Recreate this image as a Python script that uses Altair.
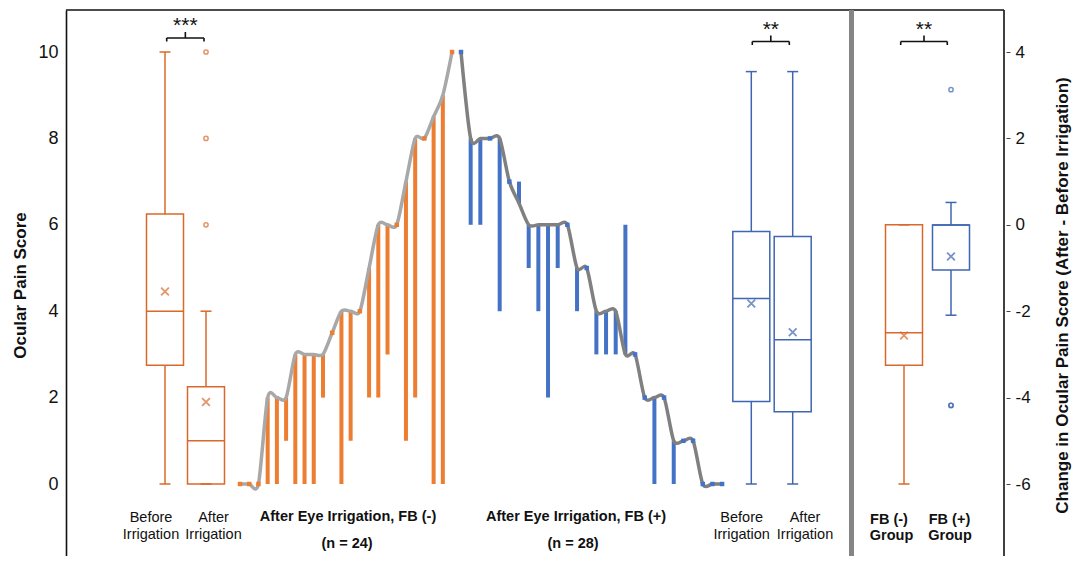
import altair as alt
import numpy as np
import pandas as pd

# ---------------- data ----------------
FAMILIES = ["FB (-)", "FB (+)"]
# per-patient scores, in the order they are drawn (each bar: before -> after)
fbneg_before = [0, 0, 0, 2, 2, 2, 3, 3, 3, 3, 3.5, 4, 4, 4, 5, 6, 6, 6, 7, 8, 8, 8.5, 9, 10]
fbneg_after = [0, 0, 0, 0, 0, 1, 0, 0, 0, 2, 3.5, 0, 1, 4, 2, 2, 3, 6, 1, 2, 8, 0, 0, 10]
fbpos_before = [10, 8, 8, 8, 8, 7, 6.5, 6, 6, 6, 6, 6, 5, 5, 4, 4, 4, 3, 3, 2, 2, 2, 1, 1, 1, 0, 0, 0]
fbpos_after = [10, 6, 6, 8, 4, 7, 7, 5, 4, 2, 5, 6, 4, 5, 3, 3, 3, 6, 3, 2, 0, 2, 0, 1, 1, 0, 0, 0]

left_ticks = [0, 2, 4, 6, 8, 10]
right_ticks = [-6, -4, -2, 0, 2, 4]
sig_text = ["***", "**", "**"]
left_title = "Ocular Pain Score"
right_title = "Change in Ocular Pain Score (After - Before Irrigation)"
label_text = ["Before", "Irrigation", "After", "Irrigation",
              "After Eye Irrigation, FB (-)", "(n = 24)",
              "After Eye Irrigation, FB (+)", "(n = 28)",
              "Before", "Irrigation", "After", "Irrigation",
              "FB (-)", "Group", "FB (+)", "Group"]
label_bold = [False, False, False, False, True, True, True, True,
              False, False, False, False, True, True, True, True]

# ---------------- layout / style ----------------
FONT = "Liberation Sans"
INK = "#111111"
BAR_COLOR = {"FB (-)": "#ED7D31", "FB (+)": "#4472C4"}
BOX_COLOR = {"FB (-)": "#DA682A", "FB (+)": "#3F66B2"}
CURVE_COLOR = {"FB (-)": "#A8A8A8", "FB (+)": "#808080"}
PLOT_W, PLOT_H = 938, 546
PAGE_LEFT, PAGE_TOP = 66, 10          # page position of the plot's top-left corner


def px(xpage):
    return xpage - PAGE_LEFT


# vertical scales: (pixels per unit, page y of value 0)
LEFT_SC = (43.2, 484.0)
RIGHT_SC = (43.2, 484.0 - 6 * 43.2)
BLUEBOX_SC = (41.24, 484.0)
FBPOS_SC = (45.1, 225.0)


def scale_of(sc):
    ppu, zero = sc
    z = zero - PAGE_TOP
    return alt.Scale(domain=[(z - PLOT_H) / ppu, z / ppu], nice=False, zero=False)


def lu(ypage):
    return (LEFT_SC[1] - ypage) / LEFT_SC[0]


SEQ_START = {"FB (-)": px(240), "FB (+)": px(461)}
SEQ_STEP = {"FB (-)": 9.22, "FB (+)": 9.67}
BOX_W, CAP_W = 37, 11

XS = alt.Scale(domain=[0, PLOT_W], nice=False, zero=False)


def X(f):
    return alt.X(f, type="quantitative", scale=XS, axis=None)


LEFT_AXIS = alt.Axis(values=left_ticks, title=left_title, grid=False, ticks=False, tickSize=0,
                     domain=True, domainColor=INK, domainWidth=1.6,
                     labelFont=FONT, labelFontSize=18, labelColor=INK, labelPadding=8,
                     titleFont=FONT, titleFontSize=17, titleFontWeight="bold", titleColor=INK,
                     titleAngle=270, titleX=-46, titleY=275, titleAlign="center",
                     titleBaseline="middle")
RIGHT_AXIS = alt.Axis(orient="right", values=right_ticks, title=right_title, grid=False,
                      ticks=True, tickSize=4, tickColor="#444444", tickWidth=1, domain=False,
                      offset=2, labelFont=FONT, labelFontSize=17, labelColor=INK, labelPadding=5,
                      labelExpr="'' + datum.value",
                      titleFont=FONT, titleFontSize=17, titleFontWeight="bold", titleColor=INK,
                      titleAngle=270, titleX=56, titleY=285, titleAlign="center",
                      titleBaseline="middle")

XPATH = "M-1,-1L1,1M-1,1L1,-1"


def box_marks(values, center, color, sc, axis):
    v = np.asarray(values, float)
    q1, med, q3 = np.percentile(v, [25, 50, 75])
    iqr = q3 - q1
    lo_f, hi_f = q1 - 1.5 * iqr, q3 + 1.5 * iqr
    inside = v[(v >= lo_f) & (v <= hi_f)]
    df = pd.DataFrame([dict(xl=center - BOX_W / 2, xr=center + BOX_W / 2, xc=center,
                            cl=center - CAP_W / 2, cr=center + CAP_W / 2,
                            q1=q1, med=med, q3=q3, lo=inside.min(), hi=inside.max(),
                            mean=v.mean())])
    outs = pd.DataFrame({"xc": center, "val": v[(v < lo_f) | (v > hi_f)]})
    ysc = scale_of(sc)

    def Y(f):
        return alt.Y(f, type="quantitative", scale=ysc, axis=axis)

    base = alt.Chart(df)
    layers = [
        base.mark_rule(color=color, strokeWidth=1.5).encode(x=X("xc"), y=Y("q3"), y2="hi"),
        base.mark_rule(color=color, strokeWidth=1.5).encode(x=X("xc"), y=Y("q1"), y2="lo"),
        base.mark_rule(color=color, strokeWidth=1.5).encode(x=X("cl"), x2="cr", y=Y("hi")),
        base.mark_rule(color=color, strokeWidth=1.5).encode(x=X("cl"), x2="cr", y=Y("lo")),
        base.mark_rect(stroke=color, strokeWidth=1.5, fillOpacity=0).encode(
            x=X("xl"), x2="xr", y=Y("q1"), y2="q3"),
        base.mark_rule(color=color, strokeWidth=1.5).encode(x=X("xl"), x2="xr", y=Y("med")),
        base.mark_point(shape=XPATH, size=60, filled=False, color=color, strokeWidth=1.8).encode(
            x=X("xc"), y=Y("mean")),
    ]
    if len(outs):
        layers.append(alt.Chart(outs).mark_point(shape="circle", size=18, filled=False,
                                                 color=color, strokeWidth=1.5, clip=True)
                      .encode(x=X("xc"), y=Y("val")))
    return layers


# ---------------- main (left scale) layer ----------------
LY = scale_of(LEFT_SC)


def YL(f):
    return alt.Y(f, type="quantitative", scale=LY, axis=LEFT_AXIS)


main = []
# frame: top, right border, divider
main.append(alt.Chart(pd.DataFrame({"a": [0], "b": [PLOT_W]})).mark_rule(color=INK, strokeWidth=1.6)
            .encode(x=X("a"), x2="b", y=alt.value(0)))
main.append(alt.Chart(pd.DataFrame({"a": [PLOT_W]})).mark_rule(color=INK, strokeWidth=1.6)
            .encode(x=X("a"), y=alt.value(0), y2=alt.value(PLOT_H)))
main.append(alt.Chart(pd.DataFrame({"a": [px(849)], "b": [px(854)]})).mark_rect(color="#858585")
            .encode(x=X("a"), x2="b", y=alt.value(0), y2=alt.value(PLOT_H)))

# orange box plots (before / after)
main += box_marks(fbneg_before, px(165), BOX_COLOR["FB (-)"], LEFT_SC, LEFT_AXIS)
main += box_marks(fbneg_after, px(206), BOX_COLOR["FB (-)"], LEFT_SC, LEFT_AXIS)

# per-patient bars, curves and squares
seqs = {"FB (-)": (fbneg_before, fbneg_after), "FB (+)": (fbpos_before, fbpos_after)}
for fam in FAMILIES:
    b, a = seqs[fam]
    df = pd.DataFrame({"pos": [SEQ_START[fam] + i * SEQ_STEP[fam] for i in range(len(b))],
                       "before": b, "after": a})
    changed = df[df.before != df.after]
    same = df[df.before == df.after]
    main.append(alt.Chart(changed).mark_rule(color=BAR_COLOR[fam], strokeWidth=4, strokeCap="butt")
                .encode(x=X("pos"), y=YL("before"), y2="after"))
    main.append(alt.Chart(df).mark_line(color=CURVE_COLOR[fam], strokeWidth=3.5,
                                        interpolate="cardinal", tension=0.2)
                .encode(x=X("pos"), y=YL("before")))
    main.append(alt.Chart(same).mark_square(color=BAR_COLOR[fam], size=20, opacity=1)
                .encode(x=X("pos"), y=YL("before")))

# category labels
LABEL_X = [151, 151, 213.5, 213.5, 348, 347, 576, 573,
           741.7, 741.7, 805, 805, 889, 891.5, 949.5, 950]
LABEL_Y = [518, 535, 518, 535, 517, 544, 517, 544,
           518, 535, 518, 535, 520, 536, 520, 536]
lab = pd.DataFrame({"text": label_text, "x": [px(v) for v in LABEL_X],
                    "y": [lu(v) for v in LABEL_Y], "bold": label_bold})
for bold in (False, True):
    main.append(alt.Chart(lab[lab.bold == bold]).mark_text(
        font=FONT, fontSize=14.5, fontWeight="bold" if bold else "normal", color=INK,
        baseline="middle", align="center").encode(x=X("x"), y=YL("y"), text="text:N"))

# significance brackets
BRACKETS = [(166.7, 204.0, 38.0), (752.3, 789.3, 41.5), (900.7, 947.3, 41.5)]
HOOK, TICK = 3.5, 6.0
segs, stars = [], []
for (x1, x2, yh), s in zip(BRACKETS, sig_text):
    xc = (x1 + x2) / 2
    segs += [(x1, x2, yh, yh), (x1, x1, yh, yh + HOOK), (x2, x2, yh, yh + HOOK),
             (xc, xc, yh, yh - TICK)]
    stars.append((s, px(xc), lu(yh - 6)))
segdf = pd.DataFrame([dict(x=px(a), x2=px(b), y=lu(c), y2=lu(d)) for a, b, c, d in segs])
main.append(alt.Chart(segdf).mark_rule(color=INK, strokeWidth=1.6)
            .encode(x=X("x"), x2="x2", y=YL("y"), y2="y2"))
stardf = pd.DataFrame(stars, columns=["text", "x", "y"])
main.append(alt.Chart(stardf).mark_text(font=FONT, fontSize=21, color=INK, baseline="alphabetic",
                                        align="center")
            .encode(x=X("x"), y=YL("y"), text="text:N"))

# ---------------- other scales ----------------
fbneg_change = [a - b for a, b in zip(fbneg_after, fbneg_before)]
fbpos_change = [a - b for a, b in zip(fbpos_after, fbpos_before)]

right_layer = box_marks(fbneg_change, px(904), BOX_COLOR["FB (-)"], RIGHT_SC, RIGHT_AXIS)
blue_layer = (box_marks(fbpos_before, px(751.3), BOX_COLOR["FB (+)"], BLUEBOX_SC, None)
              + box_marks(fbpos_after, px(792.7), BOX_COLOR["FB (+)"], BLUEBOX_SC, None))
fbpos_layer = box_marks(fbpos_change, px(951), BOX_COLOR["FB (+)"], FBPOS_SC, None)

chart = alt.layer(
    alt.layer(*main),
    alt.layer(*right_layer),
    alt.layer(*blue_layer),
    alt.layer(*fbpos_layer),
).resolve_scale(y="independent").properties(
    width=PLOT_W, height=PLOT_H,
    autosize=alt.AutoSizeParams(type="none"),
    padding={"left": 58, "top": 2, "right": 70, "bottom": 0},
).configure_view(stroke="transparent")

chart.save("out.html", embed_options={"renderer": "svg", "actions": False})
